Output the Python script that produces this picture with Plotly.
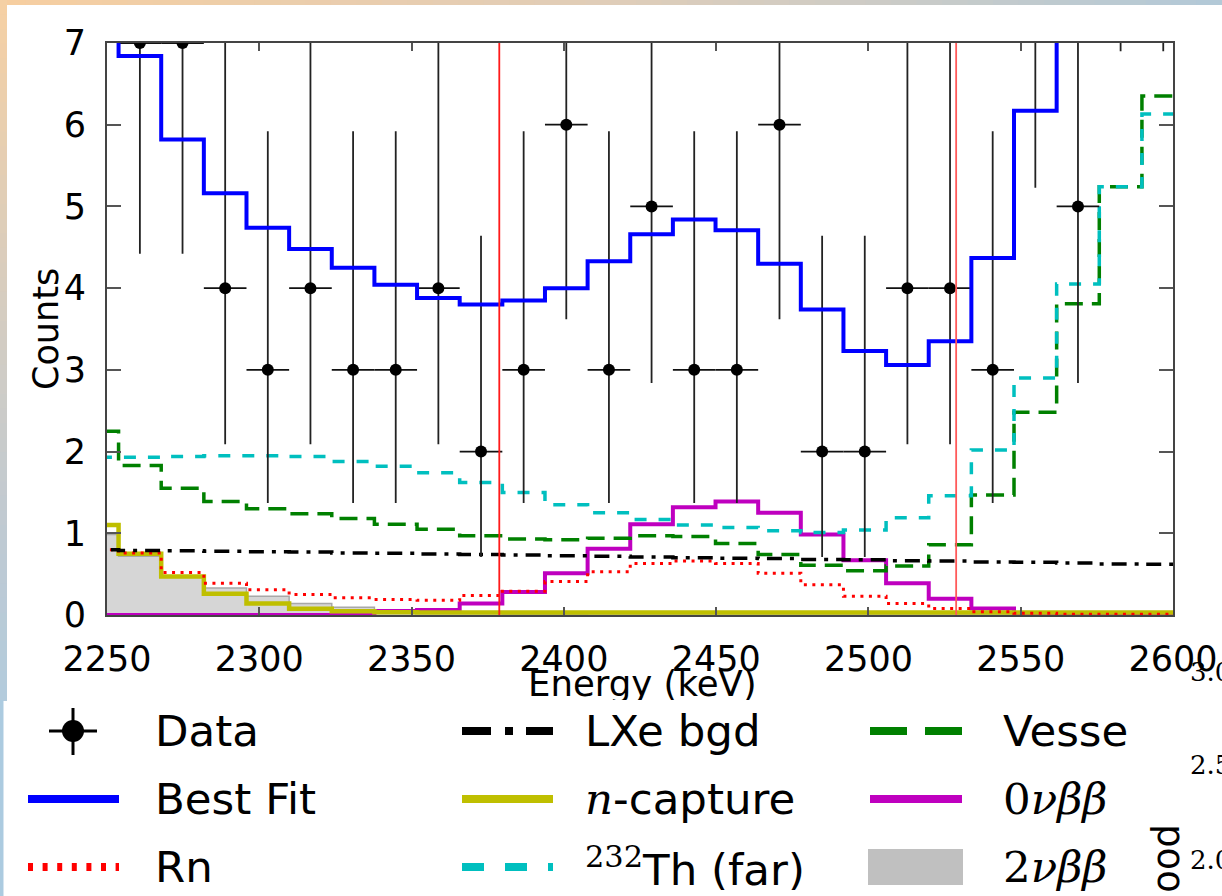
import plotly.graph_objects as go

# ---------------- data ----------------
bin_edges = [2239.8, 2253.8, 2267.8, 2281.8, 2295.8, 2309.8, 2323.8, 2337.8, 2351.8, 2365.8,
             2379.8, 2393.8, 2407.8, 2421.8, 2435.8, 2449.8, 2463.8, 2477.8, 2491.8, 2505.8,
             2519.8, 2533.8, 2547.8, 2561.8, 2575.8, 2589.8, 2603.8]

best_fit = [7.6, 6.84, 5.82, 5.16, 4.74, 4.48, 4.25, 4.04, 3.88, 3.80, 3.85, 4.00, 4.33,
            4.66, 4.84, 4.71, 4.30, 3.74, 3.23, 3.06, 3.35, 4.37, 6.17, 8.5, 11.1, 13.1]
vessel = [2.25, 1.83, 1.55, 1.39, 1.30, 1.24, 1.18, 1.11, 1.05, 0.97, 0.93, 0.92, 0.94,
          0.97, 0.96, 0.875, 0.74, 0.61, 0.54, 0.60, 0.86, 1.47, 2.48, 3.81, 5.24, 6.35]
th232_far = [1.93, 1.93, 1.94, 1.95, 1.95, 1.94, 1.88, 1.82, 1.74, 1.62, 1.50, 1.35, 1.25,
             1.17, 1.10, 1.07, 1.03, 1.01, 1.04, 1.19, 1.46, 2.02, 2.90, 4.05, 5.24, 6.13]
lxe_bgd = [0.80, 0.79, 0.785, 0.78, 0.775, 0.77, 0.76, 0.755, 0.745, 0.74, 0.735, 0.725, 0.72,
           0.71, 0.70, 0.695, 0.69, 0.68, 0.675, 0.665, 0.66, 0.65, 0.645, 0.635, 0.625, 0.62]
n_capture = [1.10, 0.75, 0.47, 0.26, 0.14, 0.075, 0.047, 0.035, 0.032, 0.03, 0.03, 0.03, 0.03,
             0.03, 0.03, 0.03, 0.03, 0.03, 0.03, 0.03, 0.03, 0.03, 0.03, 0.03, 0.03, 0.03]
two_nu = [0.985, 0.72, 0.48, 0.33, 0.23, 0.14, 0.095, 0.06, 0.035, 0.02, 0.01, 0.005, 0.0,
          0.0, 0.0, 0.0, 0.0, 0.0, 0.0, 0.0, 0.0, 0.0, 0.0, 0.0, 0.0, 0.0]
radon = [0.80, 0.76, 0.52, 0.39, 0.31, 0.25, 0.21, 0.19, 0.18, 0.24, 0.29, 0.41, 0.53,
         0.63, 0.66, 0.63, 0.51, 0.37, 0.23, 0.14, 0.08, 0.04, 0.02, 0.01, 0.01, 0.01]
zero_nu = [0.0, 0.0, 0.0, 0.0, 0.0, 0.0, 0.0, 0.05, 0.06, 0.14, 0.28, 0.51, 0.81,
           1.11, 1.32, 1.39, 1.25, 0.985, 0.67, 0.39, 0.20, 0.08, 0.0, 0.0, 0.0, 0.0]

data_x = [2260.8, 2274.8, 2288.8, 2302.8, 2316.8, 2330.8, 2344.8, 2358.8, 2372.8, 2386.8,
          2400.8, 2414.8, 2428.8, 2442.8, 2456.8, 2470.8, 2484.8, 2498.8, 2512.8, 2526.8,
          2540.8, 2554.8, 2568.8, 2582.8, 2596.8]
data_counts = [7, 7, 4, 3, 4, 3, 3, 4, 2, 3, 6, 3, 5, 3, 3, 6, 2, 2, 4, 4, 3, 8, 5, 10, 10]
data_low = [4.42, 4.42, 2.09, 1.37, 2.09, 1.37, 1.37, 2.09, 0.71, 1.37, 3.62, 1.37, 2.84,
            1.37, 1.37, 3.62, 0.71, 0.71, 2.09, 2.09, 1.37, 5.23, 2.84, 6.90, 6.90]
data_high = [10.77, 10.77, 7.16, 5.92, 7.16, 5.92, 5.92, 7.16, 4.64, 5.92, 9.58, 5.92, 8.38,
             5.92, 5.92, 9.58, 4.64, 4.64, 7.16, 7.16, 5.92, 11.97, 8.38, 14.27, 14.27]
half_bin = 7.0

roi_bounds = [2378.8, 2528.8]

x_ticks = [2250, 2300, 2350, 2400, 2450, 2500, 2550, 2600]
y_ticks = [0, 1, 2, 3, 4, 5, 6, 7]

legend_labels = ["Data", "Best Fit", "Rn", "LXe bgd", "n-capture", "232Th (far)",
                 "Vessel", "0νββ", "2νββ"]
side_ticks = ["3.0", "2.5", "2.0"]

# ---------------- layout geometry ----------------
W, H = 1222, 896
ML, MR, MT, MB = 107, 49, 43, 281
PW = W - ML - MR
PH = H - MT - MB


def PX(px):
    return (px - ML) / PW


def PY(py):
    return (H - MB - py) / PH


FONT = "DejaVu Sans"
SERIF = "DejaVu Serif"


def stepped(vals):
    return vals + [vals[-1]]


fig = go.Figure()

# 2nu bb filled histogram
fig.add_trace(go.Scatter(x=bin_edges, y=stepped(two_nu), mode="lines",
                         line=dict(shape="hv", color="#a8a8a8", width=1.5),
                         fill="tozeroy", fillcolor="#d6d6d6", hoverinfo="skip"))
# 0nu bb
fig.add_trace(go.Scatter(x=bin_edges, y=stepped(zero_nu), mode="lines",
                         line=dict(shape="hv", color="#bf00bf", width=4)))
# n-capture
fig.add_trace(go.Scatter(x=bin_edges, y=stepped(n_capture), mode="lines",
                         line=dict(shape="hv", color="#bfbf00", width=4.5)))
# Rn
fig.add_trace(go.Scatter(x=bin_edges, y=stepped(radon), mode="lines",
                         line=dict(shape="hv", color="#ff0000", width=3, dash="3px,5.5px")))
# Vessel
fig.add_trace(go.Scatter(x=bin_edges, y=stepped(vessel), mode="lines",
                         line=dict(shape="hv", color="#008000", width=3.5, dash="18px,9px")))
# 232Th far
fig.add_trace(go.Scatter(x=bin_edges, y=stepped(th232_far), mode="lines",
                         line=dict(shape="hv", color="#00bfbf", width=3.5, dash="12px,12px")))
# LXe bgd
fig.add_trace(go.Scatter(x=bin_edges, y=stepped(lxe_bgd), mode="lines",
                         line=dict(shape="hv", color="#000000", width=3.5, dash="15px,8px,4px,8px")))
# Data
fig.add_trace(go.Scatter(
    x=data_x, y=data_counts, mode="markers",
    marker=dict(color="black", size=12, symbol="circle"),
    error_y=dict(type="data", symmetric=False,
                 array=[h - c for h, c in zip(data_high, data_counts)],
                 arrayminus=[c - l for c, l in zip(data_counts, data_low)],
                 color="#222222", thickness=1.8, width=0),
    error_x=dict(type="constant", value=half_bin, color="#111111", thickness=1.8, width=0)))
# Best fit
fig.add_trace(go.Scatter(x=bin_edges, y=stepped(best_fit), mode="lines",
                         line=dict(shape="hv", color="#0000ff", width=4)))
# ROI lines
for xv, col in zip(roi_bounds, ["#ff1a1a", "#ff5a5a"]):
    fig.add_trace(go.Scatter(x=[xv, xv], y=[y_ticks[0], y_ticks[-1]], mode="lines",
                             line=dict(color=col, width=1.8)))

fig.update_layout(
    width=W, height=H, showlegend=False,
    margin=dict(l=ML, r=MR, t=MT, b=MB, pad=0, autoexpand=False),
    paper_bgcolor="white", plot_bgcolor="white",
    font=dict(family=FONT, color="black"),
    xaxis=dict(range=[x_ticks[0], x_ticks[-1]], tickvals=x_ticks,
               ticktext=[str(v) for v in x_ticks], automargin=False,
               tickfont=dict(size=35, family=FONT, color="black"),
               showgrid=False, zeroline=False, showline=True, mirror="ticks",
               linecolor="#444444", linewidth=2, ticks="inside", ticklen=8,
               tickcolor="#555555", tickwidth=1.5, ticklabelstandoff=12),
    yaxis=dict(range=[y_ticks[0], y_ticks[-1]], tickvals=y_ticks,
               ticktext=[str(v) for v in y_ticks], automargin=False,
               tickfont=dict(size=35, family=FONT, color="black"),
               showgrid=False, zeroline=False, showline=True, mirror="ticks",
               linecolor="#444444", linewidth=2, ticks="inside", ticklen=14,
               tickcolor="#555555", tickwidth=1.5, ticklabelstandoff=12),
)

shapes = []


def rect(x0, y0, x1, y1, color, line_color=None, lw=0):
    shapes.append(dict(type="rect", xref="paper", yref="paper",
                       x0=PX(x0), x1=PX(x1), y0=PY(y1), y1=PY(y0),
                       fillcolor=color, layer="above",
                       line=dict(width=lw, color=line_color or color)))


def lerp(stops, t):
    for (t0, c0), (t1, c1) in zip(stops[:-1], stops[1:]):
        if t0 <= t <= t1:
            f = (t - t0) / (t1 - t0) if t1 > t0 else 0
            c = [round(a + (b - a) * f) for a, b in zip(c0, c1)]
            return "rgb(%d,%d,%d)" % tuple(c)
    c = stops[-1][1]
    return "rgb(%d,%d,%d)" % tuple(c)


# decorative slide background strips
top_stops = [(0.0, (246, 206, 160)), (0.5, (224, 205, 184)), (1.0, (178, 201, 216))]
N = 48
for i in range(N):
    x0 = W * i / N
    x1 = W * (i + 1) / N + 1
    rect(x0, 0, x1, 5, lerp(top_stops, (i + 0.5) / N))
left_stops = [(0.0, (246, 208, 163)), (0.4, (216, 205, 190)), (0.75, (192, 202, 210)),
              (1.0, (178, 203, 220))]
for i in range(N):
    y0 = 700 * i / N
    y1 = 700 * (i + 1) / N + 1
    rect(0, y0, 7, y1, lerp(left_stops, (i + 0.5) / N))
rect(0, 700, 3.5, H, "rgb(172,203,224)")
# cover for the clipped top of the last tick label
rect(1130, 617, W, 636, "white")

# ---------------- custom legend ----------------
rows = [731, 799, 867]
c1 = (28, 119)
c2 = (462, 553)
c3 = (870, 962)


def hline(xr, y, color, width, dash="solid"):
    shapes.append(dict(type="line", xref="paper", yref="paper",
                       x0=PX(xr[0]), x1=PX(xr[1]), y0=PY(y), y1=PY(y), layer="above",
                       line=dict(color=color, width=width, dash=dash)))


# Data symbol
shapes.append(dict(type="line", xref="paper", yref="paper", x0=PX(49), x1=PX(97),
                   y0=PY(rows[0]), y1=PY(rows[0]), layer="above",
                   line=dict(color="black", width=3)))
shapes.append(dict(type="line", xref="paper", yref="paper", x0=PX(73), x1=PX(73),
                   y0=PY(708), y1=PY(755), layer="above",
                   line=dict(color="black", width=3)))
shapes.append(dict(type="circle", xref="paper", yref="paper", x0=PX(62), x1=PX(84),
                   y0=PY(rows[0] + 11), y1=PY(rows[0] - 11), layer="above",
                   fillcolor="black", line=dict(color="black", width=0)))
hline(c1, rows[1], "#0000ff", 8)
hline(c1, rows[2], "#ff0000", 8, "5px,9.6px")
hline(c2, rows[0], "#000000", 8, "29px,14px,8px,13px")
hline(c2, rows[1], "#bfbf00", 8)
hline(c2, rows[2], "#00bfbf", 8, "22px,21px")
hline(c3, rows[0], "#008000", 8, "37px,18px")
hline(c3, rows[1], "#bf00bf", 8)
rect(868, 849, 963, 885, "#c0c0c0")

fig.update_layout(shapes=shapes)

annotations = []


def text(x, y, s, size, xanchor="left", yanchor="middle", family=FONT, angle=0, **kw):
    annotations.append(dict(x=PX(x), y=PY(y), xref="paper", yref="paper", text=s,
                            showarrow=False, xanchor=xanchor, yanchor=yanchor,
                            textangle=angle, font=dict(size=size, family=family, color="black"),
                            **kw))


def cover(x0, y0, x1, y1):
    annotations.append(dict(x=PX((x0 + x1) / 2), y=PY((y0 + y1) / 2), xref="paper", yref="paper",
                            text=" ", showarrow=False, xanchor="center", yanchor="middle",
                            width=x1 - x0, height=y1 - y0, bgcolor="white", borderpad=0,
                            borderwidth=0, font=dict(size=4)))


# axis titles
text(46, 329, "Counts", 35, xanchor="center", angle=-90)
text(642, 683, "Energy (keV)", 35.5, xanchor="center")
cover(480, 700, 800, 712)

sp = '<span style="font-family:%s">' % SERIF
leg_text = {
    "Data": legend_labels[0],
    "Best Fit": legend_labels[1],
    "Rn": legend_labels[2],
    "LXe bgd": legend_labels[3],
    "n-capture": sp + "<i>n</i></span>-capture",
    "232Th (far)": sp + "<sup>232</sup></span>Th (far)",
    "Vessel": legend_labels[6],
    "0νββ": sp + "0<i>νββ</i></span>",
    "2νββ": sp + "2<i>νββ</i></span>",
}
cols_x = [153, 583, 1001]
for i, lab in enumerate(legend_labels):
    col, row = divmod(i, 3)
    text(cols_x[col], rows[row], leg_text[lab], 43.5)
cover(1128, 703, 1150, 770)

# clipped neighbour panel on the right
for s, yv in zip(side_ticks, [672, 765, 860]):
    text(1188, yv, s, 26, family=SERIF)
text(1166, 822, "Likelihood", 37, xanchor="center", yanchor="top", angle=-90)

fig.update_layout(annotations=annotations)

fig.write_html("out.html")
